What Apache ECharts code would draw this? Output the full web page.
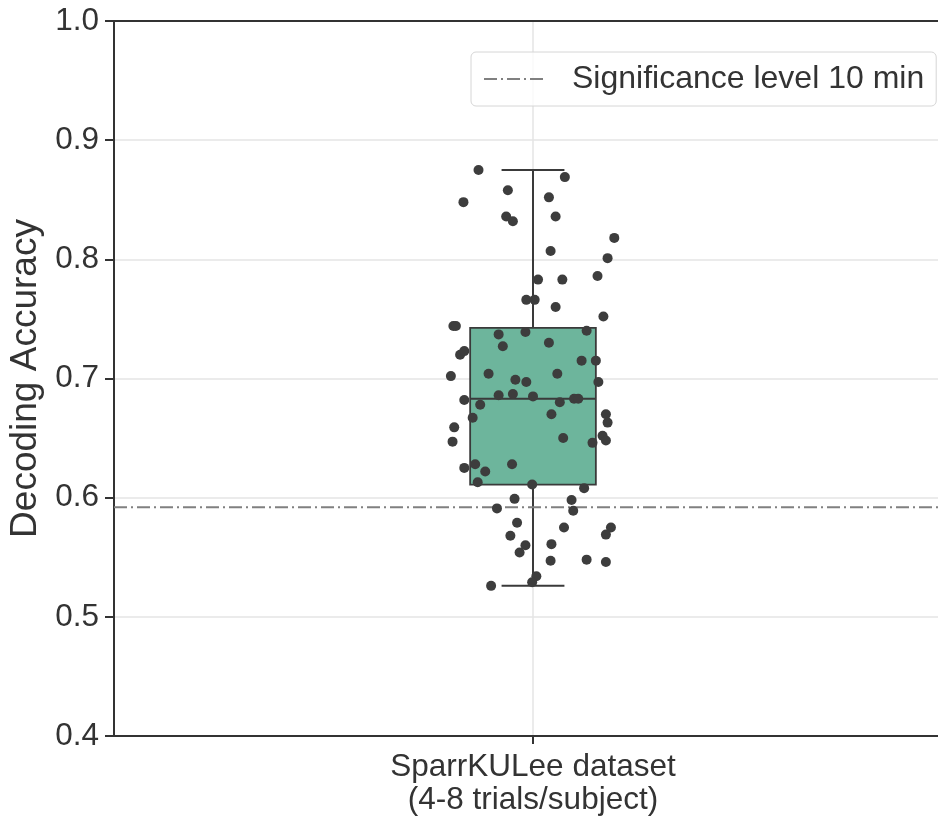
<!DOCTYPE html>
<html>
<head>
<meta charset="utf-8">
<script src="https://cdn.jsdelivr.net/npm/echarts@6/dist/echarts.min.js"></script>
<style>html,body{margin:0;padding:0;background:#fff}#chart{width:938px;height:817px}</style>
</head>
<body>
<div id="chart"></div>
<script>
// ---- data ----
var categories = ['SparrKULee dataset\n(4-8 trials/subject)'];
// box statistics: [lower whisker, Q1, median, Q3, upper whisker]
var boxStats = [0.526, 0.611, 0.683, 0.7425, 0.875];
var significanceLevel = 0.592;
var yTicks = [0.4, 0.5, 0.6, 0.7, 0.8, 0.9, 1.0];
// per-subject decoding accuracies
var accuracies = [0.875,0.869,0.858,0.848,0.852,0.836,0.832,0.836,0.818,0.807,
  0.801,0.783,0.783,0.786,0.766,0.766,0.760,0.752,0.744,0.744,
  0.737,0.739,0.740,0.727,0.730,0.720,0.723,0.715,0.715,0.702,
  0.704,0.704,0.699,0.697,0.697,0.686,0.687,0.685,0.683,0.683,
  0.682,0.678,0.680,0.667,0.670,0.670,0.663,0.659,0.647,0.650,
  0.652,0.648,0.646,0.625,0.628,0.622,0.628,0.613,0.611,0.608,
  0.599,0.598,0.591,0.589,0.579,0.575,0.575,0.569,0.568,0.560,
  0.554,0.561,0.547,0.548,0.546,0.534,0.529,0.526];
// horizontal jitter of each point (fraction of the category width)
var jitter = [-0.065,0.038,-0.030,-0.083,0.019,-0.032,-0.024,0.027,0.097,0.021,
  0.089,0.006,0.035,0.077,-0.008,0.002,0.027,0.084,-0.095,-0.092,
  -0.041,-0.009,0.064,-0.036,0.019,-0.087,-0.082,0.058,0.075,-0.098,
  -0.053,0.029,-0.021,-0.008,0.078,-0.041,-0.024,0.000,0.049,0.054,
  -0.082,-0.063,0.032,-0.072,0.022,0.087,0.089,-0.094,-0.096,0.036,
  0.083,0.087,0.071,-0.082,-0.069,-0.057,-0.025,-0.066,-0.001,0.061,
  -0.022,0.046,-0.043,0.048,-0.019,0.037,0.093,0.087,-0.027,-0.009,
  -0.016,0.022,0.021,0.064,0.087,0.004,-0.001,-0.050];

var FONT = '"Liberation Sans", Arial, Helvetica, sans-serif';
var TXT = '#333333';
var EDGE = '#3a3a3a';

var points = accuracies.map(function (v, i) { return [jitter[i], v]; });

var chart = echarts.init(document.getElementById('chart'), null, {renderer: 'canvas'});
chart.setOption({
  animation: false,
  backgroundColor: '#ffffff',
  textStyle: {fontFamily: FONT},
  grid: {left: 114, top: 21, width: 838, height: 715, show: false, containLabel: false,
         outerBoundsMode: 'none'},
  legend: {
    left: 471, top: 52, padding: [11, 12, 11, 12], orient: 'horizontal',
    backgroundColor: 'rgba(255,255,255,0.8)', borderColor: '#d6d6d6', borderWidth: 1, borderRadius: 5,
    itemWidth: 62, itemHeight: 20,
    itemStyle: {opacity: 0},
    lineStyle: {color: '#808080', width: 2, type: [13, 4, 2, 4], opacity: 1},
    formatter: function (n) { return '{g|}{t|' + n + '}'; },
    textStyle: {fontSize: 32, color: TXT, fontFamily: FONT,
      rich: {g: {width: 21}, t: {fontSize: 32, color: TXT, fontFamily: FONT}}},
    data: ['Significance level 10 min']
  },
  xAxis: [
    {
      type: 'category', data: categories, boundaryGap: true, position: 'bottom',
      axisLine: {show: true, onZero: false, lineStyle: {color: '#333333', width: 2}},
      axisTick: {show: true, alignWithLabel: true, length: 8, lineStyle: {color: '#333333', width: 2}},
      axisLabel: {fontSize: 31.5, color: TXT, fontFamily: FONT, lineHeight: 33, margin: 15},
      splitLine: {show: false}
    },
    {
      type: 'value', min: -0.5, max: 0.5, interval: 0.5, show: true, position: 'bottom',
      axisLine: {show: false, onZero: false}, axisTick: {show: false}, axisLabel: {show: false},
      splitLine: {show: true, lineStyle: {color: '#e4e4e4', width: 1.5}}
    },
    {
      type: 'value', min: -0.5, max: 0.5, interval: 0.5, show: true, position: 'top',
      axisLine: {show: true, onZero: false, lineStyle: {color: '#333333', width: 2}},
      axisTick: {show: false}, axisLabel: {show: false}, splitLine: {show: false}
    }
  ],
  yAxis: {
    type: 'value', min: 0.4, max: 1.0, interval: 0.1, position: 'left',
    name: 'Decoding Accuracy', nameLocation: 'middle', nameGap: 63,
    nameTextStyle: {fontSize: 37, color: TXT, fontFamily: FONT},
    axisLine: {show: true, onZero: false, lineStyle: {color: '#333333', width: 2}},
    axisTick: {show: true, length: 9, lineStyle: {color: '#333333', width: 2}},
    axisLabel: {fontSize: 31.5, color: TXT, fontFamily: FONT, margin: 15,
      formatter: function (v) { return v.toFixed(1); }},
    splitLine: {show: true, lineStyle: {color: '#e4e4e4', width: 1.5}}
  },
  series: [
    {
      name: 'Significance level 10 min', type: 'line', xAxisIndex: 1,
      data: [[-0.5, significanceLevel], [0.5, significanceLevel]],
      symbol: 'none', showSymbol: false, z: 3,
      itemStyle: {color: '#808080'},
      lineStyle: {color: '#808080', width: 2, type: [13, 4, 2, 4]}
    },
    {
      name: 'box', type: 'custom', xAxisIndex: 0, z: 2,
      data: [[0].concat(boxStats)],
      encode: {x: 0, y: [1, 2, 3, 4, 5]},
      renderItem: function (params, api) {
        var xi = api.value(0);
        var bw = api.size([1, 0])[0] * 0.15;
        var pMin = api.coord([xi, api.value(1)]);
        var pQ1 = api.coord([xi, api.value(2)]);
        var pMed = api.coord([xi, api.value(3)]);
        var pQ3 = api.coord([xi, api.value(4)]);
        var pMax = api.coord([xi, api.value(5)]);
        var cx = pMin[0];
        var ls = {stroke: EDGE, lineWidth: 2};
        return {type: 'group', children: [
          {type: 'line', shape: {x1: cx, y1: pQ1[1], x2: cx, y2: pMin[1]}, style: ls},
          {type: 'line', shape: {x1: cx, y1: pQ3[1], x2: cx, y2: pMax[1]}, style: ls},
          {type: 'line', shape: {x1: cx - bw / 4, y1: pMin[1], x2: cx + bw / 4, y2: pMin[1]}, style: ls},
          {type: 'line', shape: {x1: cx - bw / 4, y1: pMax[1], x2: cx + bw / 4, y2: pMax[1]}, style: ls},
          {type: 'rect', shape: {x: cx - bw / 2, y: pQ3[1], width: bw, height: pQ1[1] - pQ3[1]},
            style: {fill: '#6db59c', stroke: EDGE, lineWidth: 1.8}},
          {type: 'line', shape: {x1: cx - bw / 2, y1: pMed[1], x2: cx + bw / 2, y2: pMed[1]}, style: ls}
        ]};
      }
    },
    {
      name: 'subjects', type: 'scatter', xAxisIndex: 1, z: 4,
      data: points, symbol: 'circle', symbolSize: 10,
      itemStyle: {color: '#3d3d3d', opacity: 1}
    }
  ]
});
</script>
</body>
</html>
